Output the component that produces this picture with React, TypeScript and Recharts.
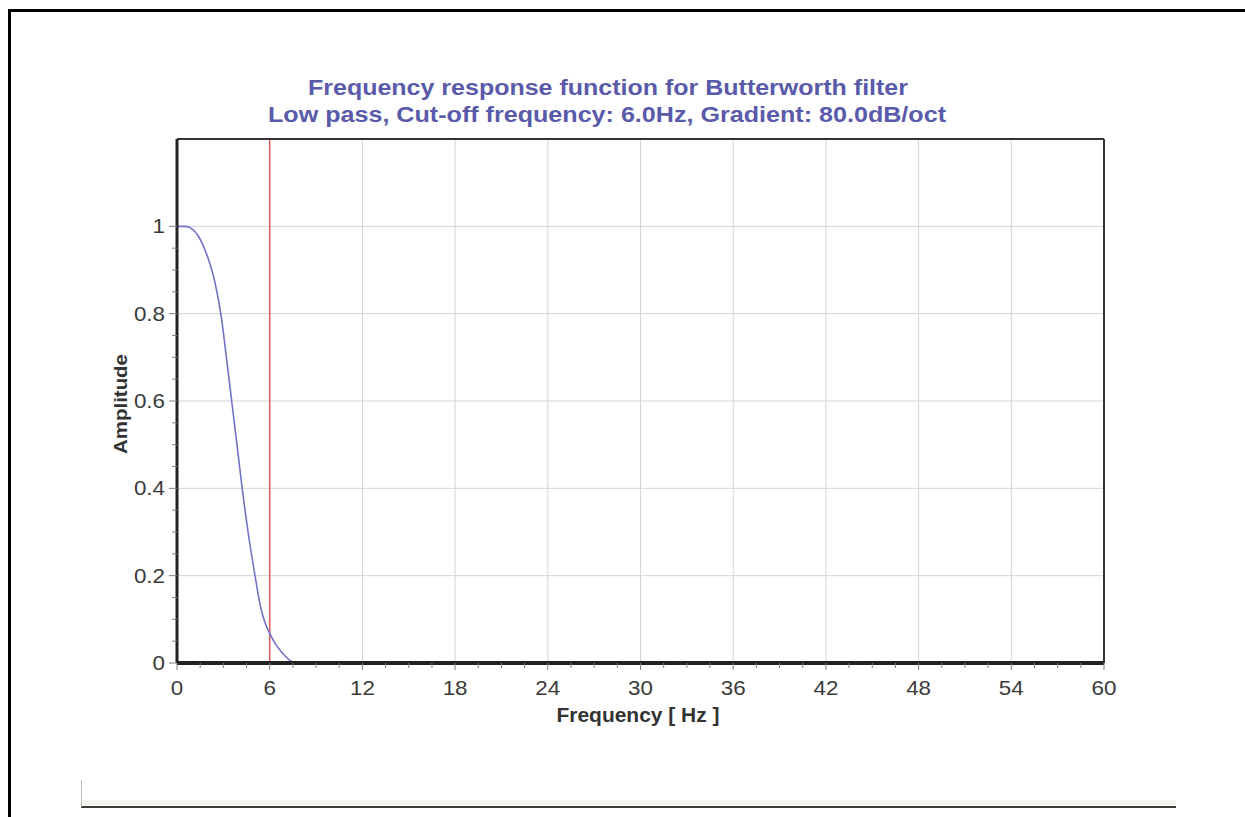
import React from 'react';
import { LineChart, Line, XAxis, YAxis, CartesianGrid, ReferenceLine } from 'recharts';

// values
const freqHz = [0, 0.5, 0.84, 1.49, 2.03, 2.46, 2.89, 3.21, 3.54, 3.88, 4.22, 4.6, 5.05, 5.4, 5.72, 6.0, 6.3, 6.66, 7.0, 7.3, 7.65, 60];
const amplitude = [1.0, 1.0, 0.997, 0.971, 0.925, 0.871, 0.787, 0.696, 0.6, 0.5, 0.4, 0.3, 0.2, 0.13, 0.09, 0.068, 0.048, 0.03, 0.016, 0.006, 0, 0];

const xTicks = [0, 6, 12, 18, 24, 30, 36, 42, 48, 54, 60];
const yTicks = [0, 0.2, 0.4, 0.6, 0.8, 1];
const xMinorTicks = [1.5, 3, 4.5, 7.5, 9, 10.5, 13.5, 15, 16.5, 19.5, 21, 22.5, 25.5, 27, 28.5, 31.5, 33, 34.5, 37.5, 39, 40.5, 43.5, 45, 46.5, 49.5, 51, 52.5, 55.5, 57, 58.5];
const yMinorTicks = [0.05, 0.1, 0.15, 0.25, 0.3, 0.35, 0.45, 0.5, 0.55, 0.65, 0.7, 0.75, 0.85, 0.9, 0.95];

const cutoffHz = 6;
const titleLines = [
  'Frequency response function for Butterworth filter',
  'Low pass, Cut-off frequency: 6.0Hz, Gradient: 80.0dB/oct',
];
const xAxisTitle = 'Frequency [ Hz ]';
const yAxisTitle = 'Amplitude';

const data = freqHz.map((f, i) => ({ f, amp: amplitude[i] }));
const xAllTicks = [...xTicks, ...xMinorTicks].sort((a, b) => a - b);
const yAllTicks = [...yTicks, ...yMinorTicks].sort((a, b) => a - b);

const FONT = '"Liberation Sans", Arial, sans-serif';
const TITLE_COLOR = '#5a5aaa';
const LABEL_COLOR = '#3a3a3a';
const TICK_COLOR = '#808080';
const STRETCH = 1.12; // the scan is a bit wider than tall

// tickSize/tickMargin are 0, so (x, y) is the point on the axis line
const XTick = ({ x, y, payload }: any) => {
  const major = xTicks.includes(payload.value);
  return (
    <g>
      <line x1={x} x2={x} y1={y} y2={y + (major ? 7 : 5)} stroke={TICK_COLOR} strokeWidth={1} />
      {major && (
        <text transform={`translate(${x},${y + 18}) scale(${STRETCH},1)`} textAnchor="middle" dy="0.71em" fontSize={20} fontFamily={FONT} fill={LABEL_COLOR}>
          {payload.value}
        </text>
      )}
    </g>
  );
};

const YTick = ({ x, y, payload }: any) => {
  const major = yTicks.includes(payload.value);
  return (
    <g>
      <line x1={x - (major ? 8 : 5)} x2={x} y1={y} y2={y} stroke={TICK_COLOR} strokeWidth={1} />
      {major && (
        <text transform={`translate(${x - 12},${y}) scale(${STRETCH},1)`} textAnchor="end" dy="0.355em" fontSize={20} fontFamily={FONT} fill={LABEL_COLOR}>
          {payload.value}
        </text>
      )}
    </g>
  );
};

export default function App() {
  return (
    <div style={{ position: 'absolute', left: 0, top: 0, width: 1245, height: 817, background: '#fff', fontFamily: FONT, overflow: 'hidden' }}>
      {/* page frame */}
      <div style={{ position: 'absolute', left: 8, top: 9, width: 1240, height: 812, borderTop: '3px solid #000', borderLeft: '3px solid #000' }} />
      {/* scanned page edge at the bottom */}
      <div style={{ position: 'absolute', left: 81, top: 800, width: 1095, height: 5, background: '#f4f4ee' }} />
      <div style={{ position: 'absolute', left: 81, top: 806, width: 1095, height: 2, background: '#3e3e30' }} />
      <div style={{ position: 'absolute', left: 81, top: 780, width: 1, height: 27, background: '#bbb' }} />

      <div style={{ position: 'absolute', left: 0, top: 0 }}>
        <LineChart width={1245} height={817} data={data} margin={{ top: 139, right: 141, bottom: 114, left: 117 }}>
          <CartesianGrid stroke="#d4d4d4" strokeWidth={1} verticalValues={xTicks} horizontalValues={yTicks} />
          <XAxis
            dataKey="f"
            type="number"
            domain={[0, 60]}
            ticks={xAllTicks}
            interval={0}
            tickSize={0}
            tickMargin={0}
            tick={<XTick />}
            tickLine={false}
            axisLine={false}
            height={40}
          />
          <YAxis
            type="number"
            domain={[0, 1.2]}
            ticks={yAllTicks}
            interval={0}
            tickSize={0}
            tickMargin={0}
            tick={<YTick />}
            tickLine={false}
            axisLine={false}
            width={60}
          />
          <ReferenceLine x={cutoffHz} stroke="#e25c5c" strokeWidth={1.5} />
          <Line
            type="monotone"
            dataKey="amp"
            stroke="#7272c6"
            strokeWidth={1.6}
            dot={false}
            isAnimationActive={false}
          />
          {/* plot frame: thick x axis, left axis, thinner top/right */}
          <ReferenceLine y={1.2} stroke="#333" strokeWidth={2} />
          <ReferenceLine x={60} stroke="#333" strokeWidth={2} />
          <ReferenceLine x={0} stroke="#222" strokeWidth={3} />
          <ReferenceLine y={0} stroke="#222" strokeWidth={4} />
        </LineChart>
      </div>

      <svg width={1245} height={817} style={{ position: 'absolute', left: 0, top: 0, pointerEvents: 'none' }}>
        <text x={608} y={95} textAnchor="middle" fontFamily={FONT} fontWeight="bold" fontSize={22} fill={TITLE_COLOR} textLength={600} lengthAdjust="spacingAndGlyphs">
          {titleLines[0]}
        </text>
        <text x={607} y={122} textAnchor="middle" fontFamily={FONT} fontWeight="bold" fontSize={22} fill={TITLE_COLOR} textLength={678} lengthAdjust="spacingAndGlyphs">
          {titleLines[1]}
        </text>
        <text x={638} y={722} textAnchor="middle" fontFamily={FONT} fontWeight="bold" fontSize={20} fill="#333" textLength={163} lengthAdjust="spacingAndGlyphs">
          {xAxisTitle}
        </text>
        <text x={127} y={404} textAnchor="middle" fontFamily={FONT} fontWeight="bold" fontSize={19} fill="#333" transform="rotate(-90 127 404)" textLength={100} lengthAdjust="spacingAndGlyphs">
          {yAxisTitle}
        </text>
      </svg>
    </div>
  );
}
